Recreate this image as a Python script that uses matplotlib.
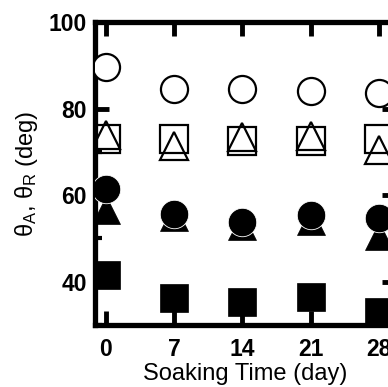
import matplotlib
matplotlib.use("Agg")
import matplotlib.pyplot as plt
from matplotlib.ticker import MultipleLocator

days = [0, 7, 14, 21, 28]
open_circle = [89.6, 84.6, 84.6, 84.1, 83.6]
open_square = [73.0, 73.0, 72.6, 72.6, 73.0]
open_triangle = [73.9, 71.3, 73.4, 73.6, 70.4]
filled_circle = [61.4, 55.6, 53.8, 55.4, 54.7]
filled_triangle = [56.5, 55.0, 52.8, 54.0, 50.5]
filled_square = [41.5, 36.2, 35.3, 36.4, 33.0]

plt.rcParams['font.family'] = ['Liberation Sans', 'DejaVu Sans']

fig = plt.figure(figsize=(3.88, 3.87), dpi=100)
ax = fig.add_axes([95/388, 62/387, 1.02 - 95/388, (325-22)/387])

ms = 19.5
ax.plot(days, open_circle, 'o', ms=ms, mfc='white', mec='black', mew=1.6, ls='none', zorder=3)
ax.plot(days, open_square, 's', ms=ms, mfc='none', mec='black', mew=1.6, ls='none', zorder=3)
ax.plot(days, open_triangle, '^', ms=ms, mfc='none', mec='black', mew=1.6, ls='none', zorder=3)
ax.plot(days, filled_triangle, '^', ms=20, mfc='black', mec='black', mew=0.5, ls='none', zorder=3)
ax.plot(days, filled_circle, 'o', ms=20.5, mfc='black', mec='white', mew=0.6, ls='none', zorder=4)
ax.plot(days, filled_square, 's', ms=20.5, mfc='black', mec='black', mew=0.5, ls='none', zorder=3)

ax.set_xlim(-1.1, 29.7)
ax.set_ylim(30, 100)
ax.set_xticks(days)
ax.set_yticks([40, 60, 80, 100])
ax.yaxis.set_minor_locator(MultipleLocator(10))

for s in ax.spines.values():
    s.set_linewidth(3.8)
ax.tick_params(which='major', direction='in', length=10, width=3.5, top=True, right=True,
               labelsize=16.5)
ax.tick_params(axis='x', pad=9)
ax.tick_params(axis='y', pad=6)
ax.tick_params(which='minor', direction='in', length=5, width=3, right=True)
for lab in ax.get_xticklabels() + ax.get_yticklabels():
    lab.set_fontweight('bold')

ax.set_xlabel('Soaking Time (day)', fontsize=17, labelpad=2)
ax.set_ylabel(r'$\mathregular{\theta_A}$, $\mathregular{\theta_R}$ (deg)', fontsize=17, labelpad=6)

fig.savefig('out.png', dpi=100)
